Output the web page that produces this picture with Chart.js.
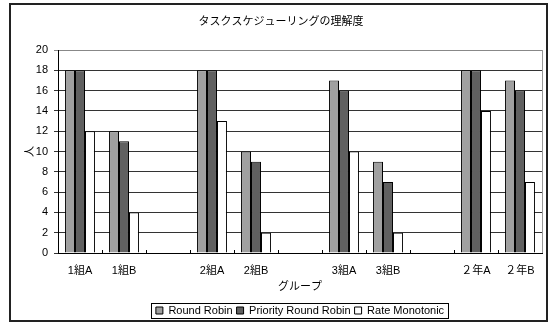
<!DOCTYPE html>
<html>
<head>
<meta charset="utf-8">
<script src="https://cdn.jsdelivr.net/npm/chart.js@4"></script>
<style>
    html, body { margin: 0; padding: 0; background: #fff; }
    canvas { display: block; }
</style>
</head>
<body>
<canvas id="chart" width="551" height="324"></canvas>
<script>
// blank labels leave a spacer slot between the class pairs
const groups = ['1組A', '1組B', '', '2組A', '2組B', '', '3組A', '3組B', '', '２年A', '２年B'];
const roundRobin = [18, 12, null, 18, 10, null, 17, 9, null, 18, 17];
const priorityRoundRobin = [18, 11, null, 18, 9, null, 16, 7, null, 18, 16];
const rateMonotonic = [12, 4, null, 13, 2, null, 10, 2, null, 14, 7];
const yMin = 0;
const yMax = 20;
const yStep = 2;

const FONT = "'Liberation Sans', 'Noto Sans CJK JP', sans-serif";

Chart.defaults.font.family = FONT;
Chart.defaults.font.size = 11;
Chart.defaults.color = '#000';

// white background and the dark outer frame
const framePlugin = {
    id: 'frame',
    beforeDraw(chart) {
        const ctx = chart.ctx;
        ctx.save();
        ctx.fillStyle = '#fff';
        ctx.fillRect(0, 0, chart.width, chart.height);
        ctx.strokeStyle = '#222';
        ctx.lineWidth = 2;
        ctx.strokeRect(10, 4, 537, 317);
        ctx.restore();
    }
};

// gray right edge of the plot area and short ticks between categories
const plotEdgePlugin = {
    id: 'plotEdge',
    afterDatasetsDraw(chart) {
        const ctx = chart.ctx;
        const area = chart.chartArea;
        const x = chart.scales.x;
        ctx.save();
        ctx.strokeStyle = '#999';
        ctx.lineWidth = 1;
        ctx.beginPath();
        ctx.moveTo(Math.round(area.right) + 0.5, area.top);
        ctx.lineTo(Math.round(area.right) + 0.5, area.bottom);
        ctx.stroke();

        ctx.strokeStyle = '#000';
        ctx.beginPath();
        for (let i = 1; i < groups.length; i++) {
            const px = Math.round((x.getPixelForTick(i - 1) + x.getPixelForTick(i)) / 2) + 0.5;
            ctx.moveTo(px, area.bottom - 3);
            ctx.lineTo(px, area.bottom);
        }
        ctx.stroke();
        ctx.restore();
    }
};

// box around the legend entries
const legendBoxPlugin = {
    id: 'legendBox',
    afterDraw(chart) {
        const boxes = chart.legend.legendHitBoxes;
        if (!boxes || !boxes.length) return;
        let left = Infinity, right = -Infinity, top = Infinity, bottom = -Infinity;
        boxes.forEach(b => {
            left = Math.min(left, b.left);
            right = Math.max(right, b.left + b.width);
            top = Math.min(top, b.top);
            bottom = Math.max(bottom, b.top + b.height);
        });
        const ctx = chart.ctx;
        ctx.save();
        ctx.strokeStyle = '#000';
        ctx.lineWidth = 1;
        ctx.strokeRect(Math.round(left - 5) + 0.5, Math.round(top - 2) + 0.5,
            Math.round(right - left + 9), Math.round(bottom - top + 4));
        ctx.restore();
    }
};

const ctx = document.getElementById('chart').getContext('2d');

new Chart(ctx, {
    type: 'bar',
    data: {
        labels: groups,
        datasets: [
            {
                label: 'Round Robin',
                data: roundRobin,
                backgroundColor: '#a0a0a0',
                borderColor: '#000',
                borderWidth: 1
            },
            {
                label: 'Priority Round Robin',
                data: priorityRoundRobin,
                backgroundColor: '#606060',
                borderColor: '#000',
                borderWidth: 1
            },
            {
                label: 'Rate Monotonic',
                data: rateMonotonic,
                backgroundColor: '#ffffff',
                borderColor: '#000',
                borderWidth: 1
            }
        ]
    },
    options: {
        responsive: false,
        animation: false,
        devicePixelRatio: 1,
        layout: {
            padding: { left: 20, right: 9, top: 0, bottom: -2 }
        },
        datasets: {
            bar: {
                categoryPercentage: 0.68,
                barPercentage: 1
            }
        },
        plugins: {
            title: {
                display: true,
                text: 'タスクスケジューリングの理解度',
                font: { size: 11, weight: 'normal' },
                color: '#000',
                padding: { top: 15.5, bottom: 21.3 }
            },
            legend: {
                position: 'bottom',
                fullSize: false,
                labels: {
                    boxWidth: 7,
                    boxHeight: 7,
                    padding: 4,
                    font: { size: 11 },
                    color: '#000'
                }
            },
            tooltip: { enabled: false }
        },
        scales: {
            x: {
                grid: { display: false, drawTicks: false },
                border: { display: true, color: '#000', width: 1 },
                ticks: { autoSkip: false, maxRotation: 0, padding: 11, font: { size: 11 } },
                title: {
                    display: true,
                    text: 'グループ',
                    font: { size: 11 },
                    padding: { top: 0, bottom: 7.4 }
                },
                afterFit(scale) { scale.height = 48; }
            },
            y: {
                min: yMin,
                max: yMax,
                ticks: { stepSize: yStep, padding: 6, font: { size: 11 } },
                grid: {
                    color: c => (c.tick && c.tick.value === yMax) ? '#888' : '#333',
                    tickLength: 4
                },
                border: { display: true, color: '#000', width: 1 },
                title: {
                    display: true,
                    text: '人',
                    font: { size: 11 },
                    padding: { top: 3.4, bottom: 0 }
                },
                afterFit(scale) { scale.width = 38; }
            }
        }
    },
    plugins: [framePlugin, plotEdgePlugin, legendBoxPlugin]
});
</script>
</body>
</html>
